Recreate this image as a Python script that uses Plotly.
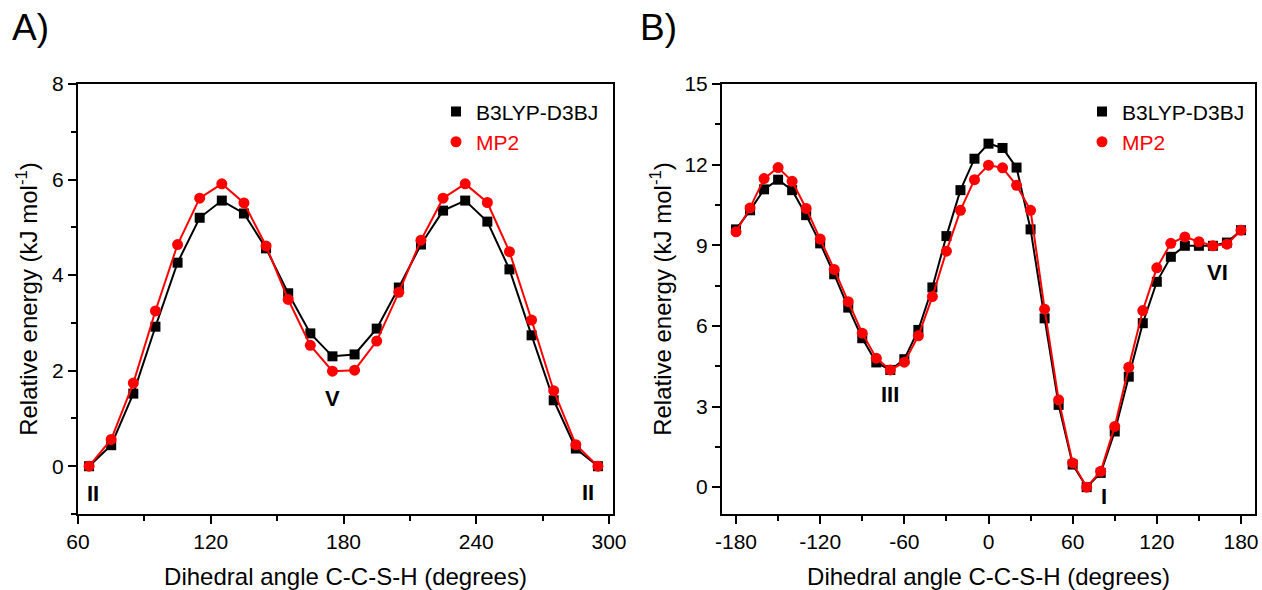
import plotly.graph_objects as go

# ---------------- data ----------------
angle_a = [65, 75, 85, 95, 105, 115, 125, 135, 145, 155, 165, 175,
           185, 195, 205, 215, 225, 235, 245, 255, 265, 275, 285, 295]
b3lyp_a = [0.00, 0.44, 1.52, 2.92, 4.26, 5.20, 5.56, 5.29, 4.56, 3.62, 2.78, 2.30,
           2.34, 2.88, 3.74, 4.64, 5.35, 5.56, 5.12, 4.12, 2.74, 1.38, 0.37, 0.00]
mp2_a = [0.00, 0.56, 1.74, 3.25, 4.64, 5.61, 5.91, 5.51, 4.61, 3.49, 2.53, 1.99,
         2.01, 2.62, 3.64, 4.73, 5.61, 5.91, 5.52, 4.49, 3.06, 1.58, 0.45, 0.00]

angle_b = [-180, -170, -160, -150, -140, -130, -120, -110, -100, -90, -80, -70,
           -60, -50, -40, -30, -20, -10, 0, 10, 20, 30, 40, 50, 60, 70, 80, 90,
           100, 110, 120, 130, 140, 150, 160, 170, 180]
b3lyp_b = [9.59, 10.30, 11.08, 11.44, 11.05, 10.12, 9.07, 7.92, 6.68, 5.54, 4.64, 4.36,
           4.76, 5.85, 7.43, 9.34, 11.05, 12.22, 12.78, 12.62, 11.89, 9.59, 6.28, 3.06,
           0.84, 0.00, 0.53, 2.07, 4.11, 6.10, 7.64, 8.57, 8.98, 8.98, 8.98, 9.10, 9.56]
mp2_b = [9.50, 10.39, 11.48, 11.89, 11.38, 10.37, 9.23, 8.10, 6.90, 5.73, 4.80, 4.36,
         4.65, 5.63, 7.09, 8.78, 10.30, 11.44, 11.98, 11.88, 11.23, 10.30, 6.62, 3.25,
         0.90, 0.00, 0.59, 2.26, 4.46, 6.57, 8.16, 9.07, 9.31, 9.13, 8.98, 9.04, 9.56]

xticks_b = [-180, -120, -60, 0, 60, 120, 180]
xticklabels_b = ["-180", "-120", "-60", "0", "60", "120", "180"]

series_names = ["B3LYP-D3BJ", "MP2"]
series_colors = ["#000000", "#ff0000"]
series_symbols = ["square", "circle"]

labels_a = ["II", "V", "II"]
labels_a_x = [67, 175, 290.5]
labels_a_y = [-0.57, 1.42, -0.55]
labels_b = ["III", "I", "VI"]
labels_b_x = [-70, 82, 163]
labels_b_y = [3.43, -0.35, 8.0]

x_title = "Dihedral angle C-C-S-H (degrees)"
y_title = "Relative energy (kJ mol<sup>-1</sup>)"

FONT = "Liberation Sans, Arial, Helvetica, sans-serif"

fig = go.Figure()

def add_panel(xv, ys, xa, ya, legend_id):
    for yv, name, col, sym in zip(ys, series_names, series_colors, series_symbols):
        fig.add_trace(go.Scatter(
            x=xv, y=yv, mode="lines", xaxis=xa, yaxis=ya,
            line=dict(color=col, width=2), showlegend=False, hoverinfo="skip"))
        fig.add_trace(go.Scatter(
            x=xv, y=yv, mode="markers", xaxis=xa, yaxis=ya,
            marker=dict(color=col, symbol=sym, size=10 if sym == "square" else 11),
            name=f"<span style='color:{col}'>{name}</span>",
            legend=legend_id))

add_panel(angle_a, [b3lyp_a, mp2_a], "x", "y", "legend")
add_panel(angle_b, [b3lyp_b, mp2_b], "x2", "y2", "legend2")

axis_common = dict(
    showline=True, linecolor="black", linewidth=2, mirror=True,
    ticks="outside", ticklen=8, tickwidth=2, tickcolor="black",
    showgrid=False, zeroline=False, automargin=False,
    tickfont=dict(family=FONT, size=21, color="black"),
)

W, H = 1262, 590
ml, mr, mt, mb = 78, 7, 84, 76
pw = W - ml - mr
ph = H - mt - mb

fig.update_layout(
    width=W, height=H,
    margin=dict(l=ml, r=mr, t=mt, b=mb, autoexpand=False),
    plot_bgcolor="white", paper_bgcolor="white",
    font=dict(family=FONT, color="black"),
    xaxis=dict(domain=[0, (613 - ml) / pw], range=[60, 301.8], tick0=60, dtick=60,
               minor=dict(ticks="outside", ticklen=5, tickwidth=2, dtick=30, tick0=60),
               title=dict(text=x_title, font=dict(size=24), standoff=16),
               **axis_common),
    yaxis=dict(range=[-1, 8], tick0=0, dtick=2,
               minor=dict(ticks="outside", ticklen=5, tickwidth=2, dtick=1, tick0=0),
               title=dict(text=y_title, font=dict(size=24), standoff=8),
               **axis_common),
    xaxis2=dict(domain=[(722 - ml) / pw, 1.0], range=[-190, 190],
                tickmode="array", tickvals=xticks_b, ticktext=xticklabels_b,
                minor=dict(ticks="outside", ticklen=5, tickwidth=2, dtick=30, tick0=-180),
                title=dict(text=x_title, font=dict(size=24), standoff=16),
                anchor="y2", **axis_common),
    yaxis2=dict(range=[-1, 15], tick0=0, dtick=3,
                minor=dict(ticks="outside", ticklen=5, tickwidth=2, dtick=1.5, tick0=0),
                title=dict(text=y_title, font=dict(size=24), standoff=6),
                anchor="x2", **axis_common),
    legend=dict(x=(436 - ml) / pw, y=0.983, xanchor="left", yanchor="top",
                bgcolor="rgba(0,0,0,0)", font=dict(size=21, family=FONT),
                tracegroupgap=0, itemwidth=30),
    legend2=dict(x=(1082 - ml) / pw, y=0.983, xanchor="left", yanchor="top",
                 bgcolor="rgba(0,0,0,0)", font=dict(size=21, family=FONT),
                 tracegroupgap=0, itemwidth=30),
)

ann_font = dict(family=FONT, size=22, color="black")
for t, xv, yv in zip(labels_a, labels_a_x, labels_a_y):
    fig.add_annotation(x=xv, y=yv, xref="x", yref="y", text=f"<b>{t}</b>",
                       showarrow=False, font=ann_font)
for t, xv, yv in zip(labels_b, labels_b_x, labels_b_y):
    fig.add_annotation(x=xv, y=yv, xref="x2", yref="y2", text=f"<b>{t}</b>",
                       showarrow=False, font=ann_font)

# panel letters
for t, px in [("A)", 10), ("B)", 638)]:
    fig.add_annotation(x=(px - ml) / pw, y=(H - mb - 28) / ph,
                       xref="paper", yref="paper", text=t, showarrow=False,
                       xanchor="left", yanchor="middle",
                       font=dict(family=FONT, size=37, color="black"))

fig.write_html("out.html", config={"displayModeBar": False},
               post_script="document.body.style.margin='0';document.body.style.overflow='hidden';")
